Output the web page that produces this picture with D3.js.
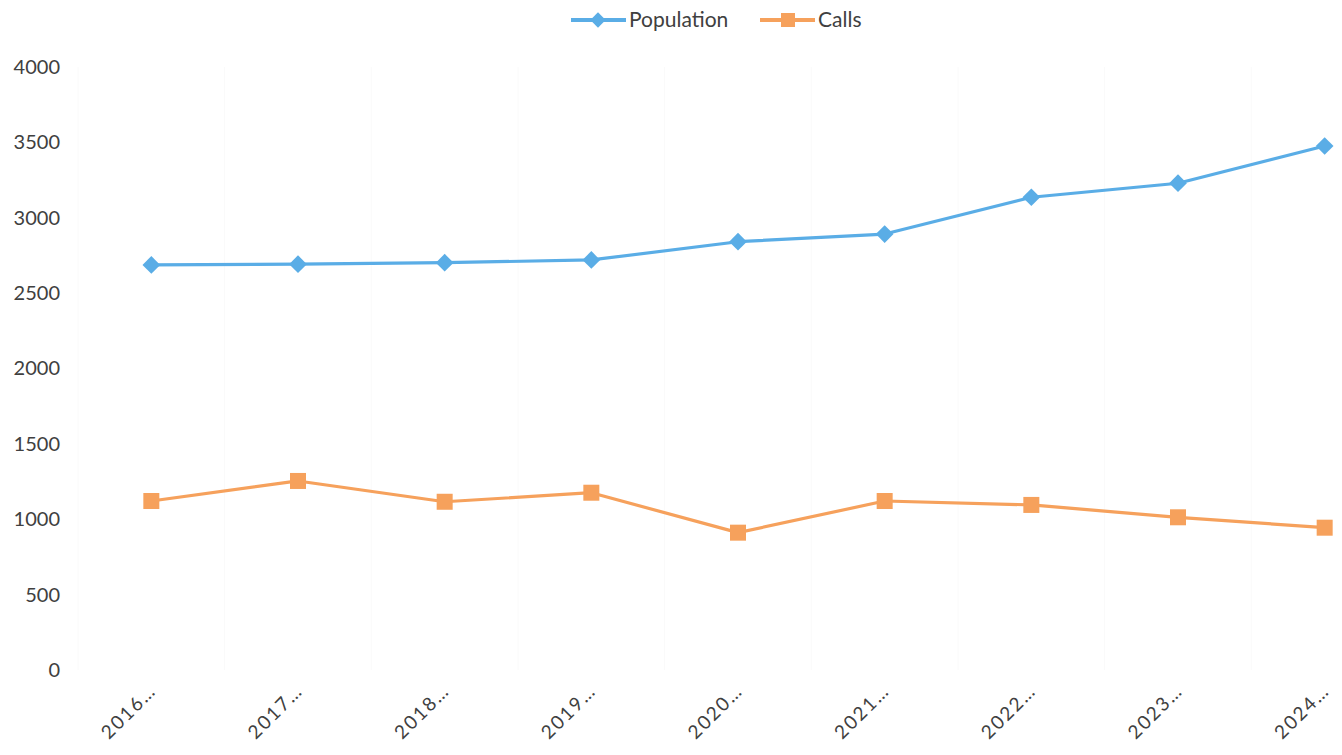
<!DOCTYPE html>
<html><head><meta charset="utf-8">
<script src="https://cdn.jsdelivr.net/npm/d3@7/dist/d3.min.js"></script>
<style>body{margin:0;background:#fff}svg{display:block}text{font-family:Lato,"Open Sans",sans-serif;fill:#404040}</style>
</head><body><svg id="c" width="1342" height="755"></svg>
<script>
const categories = ["2016…","2017…","2018…","2019…","2020…","2021…","2022…","2023…","2024…"];
const population = [2687, 2692, 2702, 2720, 2841, 2892, 3136, 3229, 3476];
const calls = [1121, 1254, 1116, 1176, 911, 1121, 1095, 1013, 944];
const yTicks = [0, 500, 1000, 1500, 2000, 2500, 3000, 3500, 4000];
const seriesNames = ["Population", "Calls"];
const colors = ["#5aade6", "#f6a15c"];

const svg = d3.select("#c");
const x = d3.scaleBand().domain(categories).range([78, 1398]);
const y = d3.scaleLinear().domain([0, 4000]).range([670, 67]);
const cx = d => x(d) + x.bandwidth() / 2;

// faint vertical gridlines
svg.append("g").selectAll("line").data(categories).join("line")
  .attr("x1", d => x(d)).attr("x2", d => x(d))
  .attr("y1", y(4000)).attr("y2", y(0))
  .attr("stroke", "#fafafa").attr("stroke-width", 1);

// y axis
const yAxis = svg.append("g").attr("transform", "translate(60,0)")
  .call(d3.axisLeft(y).tickValues(yTicks).tickFormat(d3.format("d")).tickSize(0).tickPadding(0));
yAxis.select(".domain").remove();
yAxis.selectAll("text").attr("font-size", 20).style("font-family", "Lato, sans-serif").attr("fill", "#404040").attr("dy", "0.32em");

// x axis
const xAxis = svg.append("g").attr("transform", "translate(0,670)")
  .call(d3.axisBottom(x).tickSize(0).tickPadding(0));
xAxis.select(".domain").remove();
xAxis.selectAll("text")
  .attr("font-size", 19).attr("letter-spacing", "2px").style("font-family", "Lato, sans-serif").attr("fill", "#404040")
  .attr("text-anchor", "end").attr("dy", 0)
  .attr("transform", "translate(6,22) rotate(-45)");

const line = d3.line().x((d, i) => cx(categories[i])).y(d => y(d));

// population
svg.append("path").datum(population).attr("d", line)
  .attr("fill", "none").attr("stroke", colors[0]).attr("stroke-width", 3.2).attr("stroke-linejoin", "round");
svg.append("g").selectAll("path").data(population).join("path")
  .attr("d", d3.symbol().type(d3.symbolDiamond2).size(200))
  .attr("transform", (d, i) => `translate(${cx(categories[i])},${y(d)})`)
  .attr("fill", colors[0]);

// calls
svg.append("path").datum(calls).attr("d", line)
  .attr("fill", "none").attr("stroke", colors[1]).attr("stroke-width", 3.2).attr("stroke-linejoin", "round");
svg.append("g").selectAll("rect").data(calls).join("rect")
  .attr("x", (d, i) => cx(categories[i]) - 8).attr("y", d => y(d) - 8)
  .attr("width", 16).attr("height", 16).attr("fill", colors[1]);

// legend
const lg = svg.append("g");
const legendX = [571, 760];
seriesNames.forEach((name, i) => {
  const g = lg.append("g").attr("transform", `translate(${legendX[i]},20)`);
  g.append("line").attr("x1", 0).attr("x2", 55).attr("y1", 0).attr("y2", 0)
    .attr("stroke", colors[i]).attr("stroke-width", 4);
  if (i === 0) {
    g.append("path").attr("d", d3.symbol().type(d3.symbolDiamond2).size(150))
      .attr("transform", "translate(27,0)").attr("fill", colors[i]);
  } else {
    g.append("rect").attr("x", 21).attr("y", -7).attr("width", 14).attr("height", 14).attr("fill", colors[i]);
  }
  g.append("text").attr("x", 58).attr("y", 0).attr("dy", "0.35em")
    .attr("font-size", 21).text(name);
});
</script></body></html>
